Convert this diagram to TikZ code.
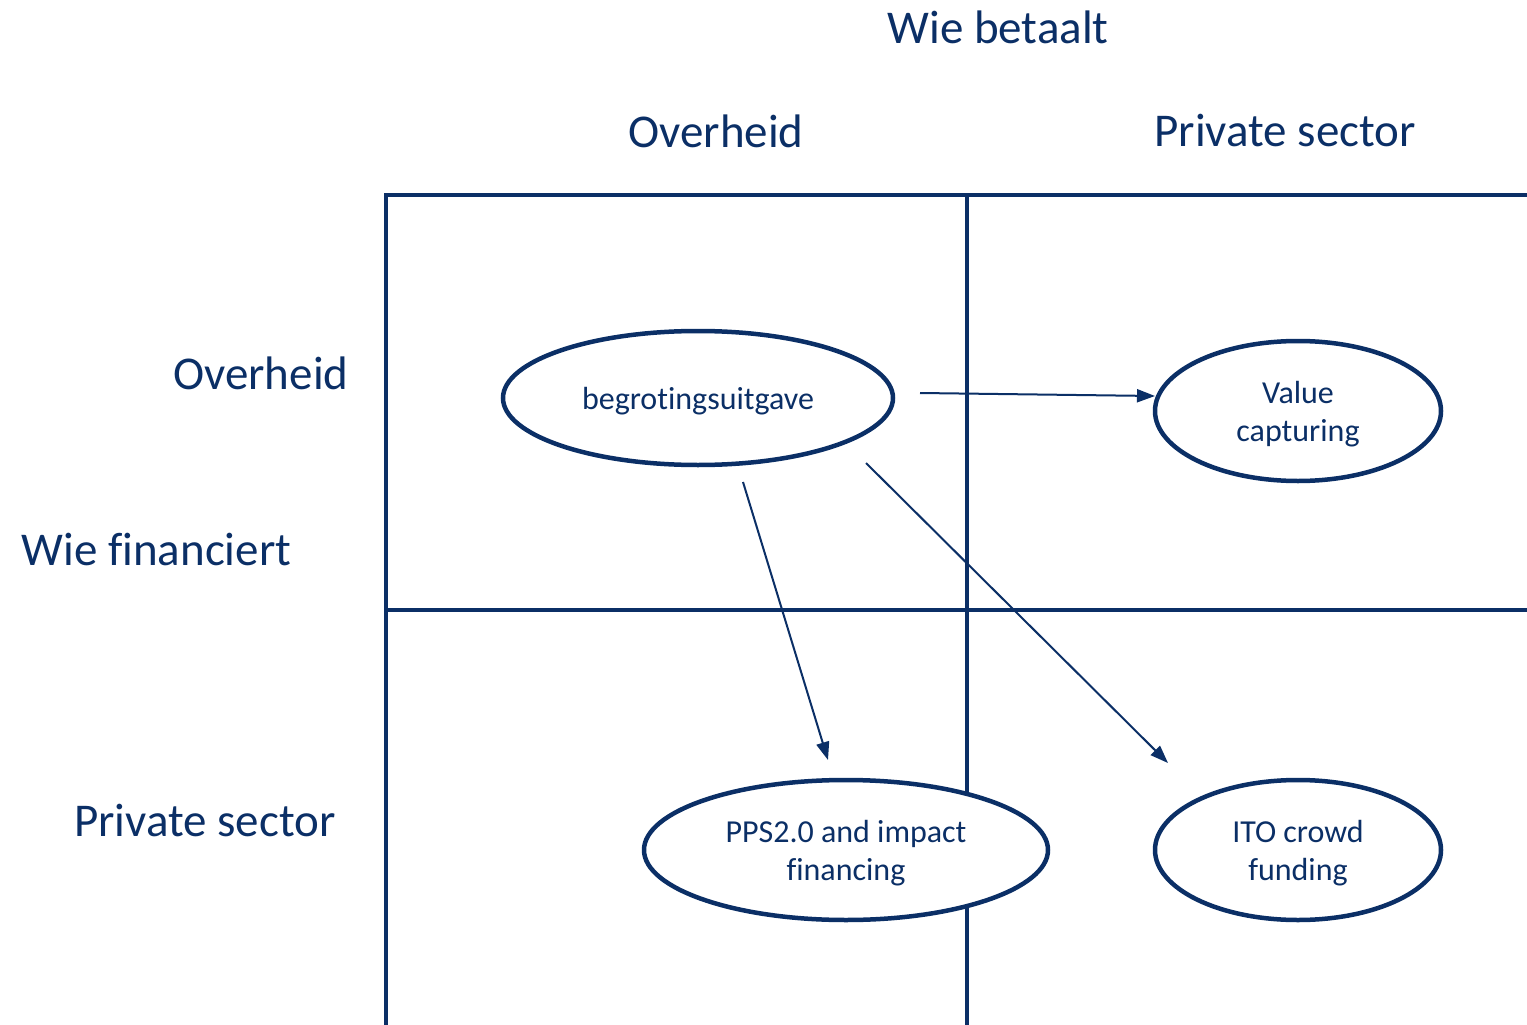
\documentclass[tikz,border=0pt]{standalone}
\usepackage{fontspec}
\setmainfont{Carlito}[Ligatures=NoCommon]
\usetikzlibrary{shapes.geometric,arrows.meta}

\definecolor{navy}{HTML}{0B2F66}
\newcommand\lowline[1]{\raisebox{-3pt}[\height][\depth]{#1}}

\begin{document}
\begin{tikzpicture}[x=1pt,y=-1pt,
  every node/.style={text=navy},
  head/.style={font=\fontsize{47}{52}\selectfont},
  bubble/.style={ellipse,draw=navy,line width=4.5pt,fill=white,inner sep=0pt,
    align=center,font=\fontsize{32}{38}\selectfont},
  flow/.style={navy,line width=2pt,-{Triangle[length=18pt,width=13pt]}}]

\useasboundingbox (0,0) rectangle (1527,1025);

% grid
\draw [navy,line width=4.5pt] (386,1025) -- (386,195) -- (1527,195);
\draw [navy,line width=4.5pt] (967,195) -- (967,1025);
\draw [navy,line width=4.5pt] (386,610) -- (1527,610);

% headings
\node [head] (betaalt) at (998,27) {Wie betaalt};
\node [head] (colgov) at (716,131) {Overheid};
\node [head] (colpriv) at (1285,131) {Private sector};
\node [head,anchor=east] (rowgov) at (352,373) {Overheid};
\node [head,anchor=west] (financiert) at (18,550) {Wie financiert};
\node [head,anchor=east] (rowpriv) at (339,820) {Private sector};

% ellipses
\node [bubble,minimum width=390pt,minimum height=134pt] (budget) at (698,398) {\lowline{begrotingsuitgave}};
\node [bubble,minimum width=286pt,minimum height=140pt] (value) at (1298,411) {\lowline{Value}\\\lowline{capturing}};
\node [bubble,minimum width=404pt,minimum height=140pt] (pps) at (846,850) {\lowline{PPS2.0 and impact}\\\lowline{financing}};
\node [bubble,minimum width=286pt,minimum height=140pt] (ito) at (1298,850) {\lowline{ITO crowd}\\\lowline{funding}};

% arrow ends
\coordinate (s1) at (920,393);
\coordinate (e1) at (1155,396);
\coordinate (s2) at (743,482);
\coordinate (e2) at (828,760);
\coordinate (s3) at (866,463);
\coordinate (e3) at (1168,763);

\draw [flow] (s1) -- (e1);
\draw [flow] (s2) -- (e2);
\draw [flow] (s3) -- (e3);

\end{tikzpicture}
\end{document}
